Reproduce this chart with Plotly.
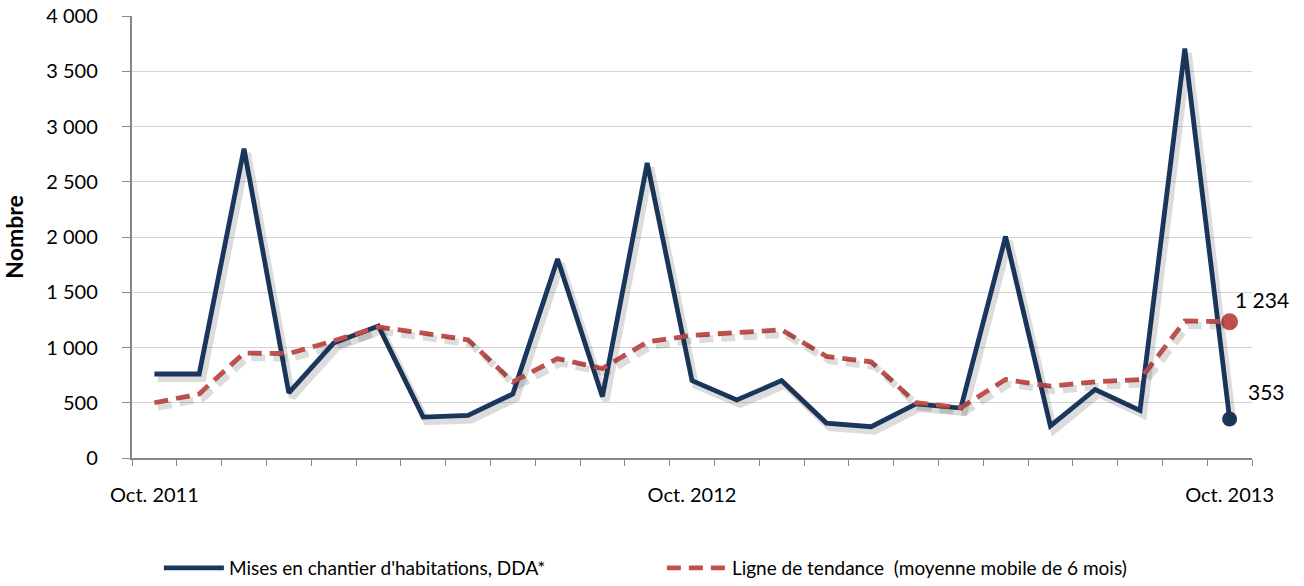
import plotly.graph_objects as go

months = ["Oct. 2011", "Nov. 2011", "Déc. 2011", "Janv. 2012", "Févr. 2012", "Mars 2012",
          "Avr. 2012", "Mai 2012", "Juin 2012", "Juil. 2012", "Août 2012", "Sept. 2012",
          "Oct. 2012", "Nov. 2012", "Déc. 2012", "Janv. 2013", "Févr. 2013", "Mars 2013",
          "Avr. 2013", "Mai 2013", "Juin 2013", "Juil. 2013", "Août 2013", "Sept. 2013",
          "Oct. 2013"]
tick_labels = ["Oct. 2011", "Oct. 2012", "Oct. 2013"]

mises = [760, 760, 2800, 590, 1040, 1195, 370, 385, 580, 1800, 555, 2670,
         700, 525, 700, 316, 283, 489, 452, 2005, 290, 620, 430, 3705, 353]
tendance = [500, 580, 950, 945, 1060, 1185, 1130, 1070, 690, 900, 810, 1050,
            1110, 1140, 1160, 920, 870, 500, 455, 710, 650, 690, 710, 1240, 1234]

name_mises = "Mises en chantier d'habitations, DDA*"
name_tend = "Ligne de tendance  (moyenne mobile de 6 mois)"

navy = "#19375f"
red = "#c0504d"
shadow = "rgba(40,40,40,0.16)"
font = "Lato"

def fmt(v):
    return f"{v:,}".replace(",", " ")

fig = go.Figure()
# soft drop shadows drawn on a slightly offset overlay axis pair
fig.add_trace(go.Scatter(x=months, y=mises, mode="lines", xaxis="x2", yaxis="y2",
                         line=dict(color=shadow, width=7), showlegend=False, hoverinfo="skip"))
fig.add_trace(go.Scatter(x=months, y=tendance, mode="lines", xaxis="x2", yaxis="y2",
                         line=dict(color=shadow, width=7, dash="14px,8px"),
                         showlegend=False, hoverinfo="skip"))

fig.add_trace(go.Scatter(x=months, y=mises, mode="lines", name=name_mises,
                         line=dict(color=navy, width=4.8)))
fig.add_trace(go.Scatter(x=months, y=tendance, mode="lines", name=name_tend,
                         line=dict(color=red, width=4.8, dash="14px,8px")))
fig.add_trace(go.Scatter(x=[months[-1]], y=[mises[-1]], mode="markers",
                         marker=dict(color=navy, size=15), showlegend=False))
fig.add_trace(go.Scatter(x=[months[-1]], y=[tendance[-1]], mode="markers",
                         marker=dict(color=red, size=17), showlegend=False))

fig.add_annotation(x=months[-1], y=tendance[-1], text=fmt(tendance[-1]), showarrow=False,
                   xanchor="left", yanchor="middle", xshift=3, yshift=22,
                   font=dict(family=font, size=21, color="#000"))
fig.add_annotation(x=months[-1], y=mises[-1], text=fmt(mises[-1]), showarrow=False,
                   xanchor="left", yanchor="middle", xshift=16, yshift=27,
                   font=dict(family=font, size=21, color="#000"))

n = len(months)
dx = 3.5 / (1120 / n)
dy = 4.5 / (442 / 4000)

fig.update_layout(
    width=1304, height=586,
    margin=dict(l=132, r=52, t=16, b=128, autoexpand=False),
    paper_bgcolor="white", plot_bgcolor="white",
    separators=", ",
    font=dict(family=font, size=19, color="#000"),
    showlegend=True,
    legend=dict(orientation="h", x=0.024, xanchor="left", y=-0.249, yanchor="middle",
                font=dict(family=font, size=19), itemwidth=60, entrywidth=428,
                traceorder="normal"),
    xaxis=dict(type="category", tickmode="array", tickvals=months,
               ticktext=[m if m in tick_labels else "" for m in months],
               range=[-0.5, n - 0.5],
               tickson="boundaries", ticks="outside", ticklen=6, tickcolor="#868686",
               showline=True, linecolor="#868686", linewidth=1.5, showgrid=False,
               ticklabelstandoff=18, tickangle=0,
               tickfont=dict(family=font, size=20)),
    xaxis2=dict(type="category", overlaying="x", range=[-0.5 - dx, n - 0.5 - dx],
                visible=False, showgrid=False),
    yaxis=dict(range=[0, 4000], dtick=500, tickformat=",d", showgrid=True,
               gridcolor="#d4d4d4", gridwidth=1, showline=True, linecolor="#868686",
               linewidth=1.5, ticks="outside", ticklen=8, tickcolor="#868686",
               zeroline=False, tickfont=dict(family=font, size=20),
               ticksuffix="\u00a0\u00a0\u00a0\u00a0",
               title=dict(text="<b>Nombre</b>", font=dict(family=font, size=23), standoff=24)),
    yaxis2=dict(overlaying="y", range=[dy, 4000 + dy], visible=False, showgrid=False),
)

fig.write_html("out.html", config={"displayModeBar": False},
               post_script="document.body.style.margin='0';")
